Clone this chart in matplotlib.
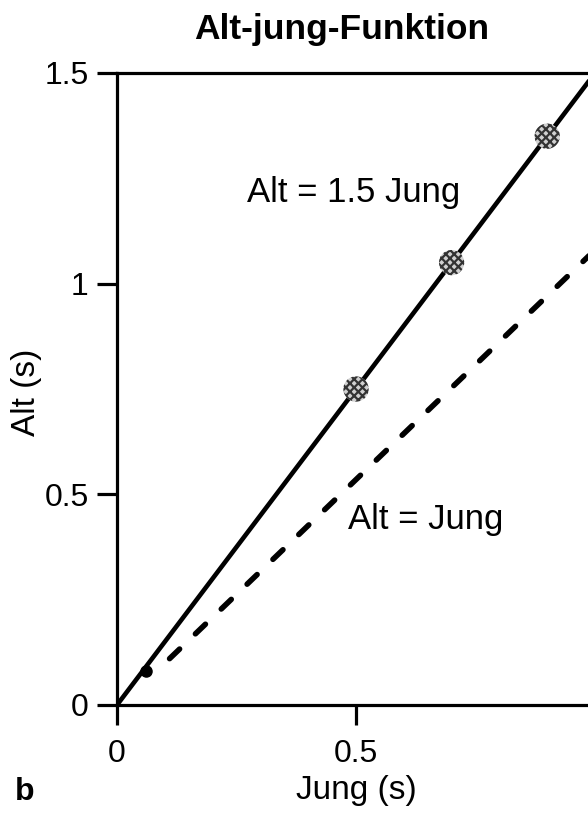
import matplotlib
matplotlib.use("Agg")
import matplotlib.pyplot as plt

plt.rcParams['font.family'] = ['Liberation Sans', 'DejaVu Sans']
plt.rcParams['hatch.linewidth'] = 1.6

# Data
jung_solid = [0.0, 1.0]
alt_solid = [0.0, 1.5]
jung_dash = [0.11, 1.0]
alt_dash = [0.11, 1.08]
jung_pts = [0.5, 0.7, 0.9]
alt_pts = [0.75, 1.05, 1.35]
jung_dot = [0.06]
alt_dot = [0.08]
x_ticks = [0, 0.5, 1]
x_ticklabels = ["0", "0.5", "1"]
y_ticks = [0, 0.5, 1, 1.5]
y_ticklabels = ["0", "0.5", "1", "1.5"]

W, H = 588, 818
fig = plt.figure(figsize=(W / 100, H / 100), dpi=100)
left = 117 / W
bottom = 1 - 705 / H
top = 1 - 73 / H
right = 595 / W
ax = fig.add_axes([left, bottom, right - left, top - bottom])

ax.plot(jung_solid, alt_solid, color='black', lw=3.3, solid_capstyle='round', zorder=3)
ax.plot(jung_dash, alt_dash, color='black', lw=4.0, linestyle=(0, (2.5, 3.95)),
        dash_capstyle='round', zorder=3)
ax.scatter(jung_pts, alt_pts, s=330, facecolor='#d0d0d0', edgecolor='#333333',
           hatch='xxxx', linewidths=0, zorder=4)
ax.plot(jung_dot, alt_dot, 'o', color='black', ms=8, zorder=4)

ax.set_xlim(0, 1)
ax.set_ylim(0, 1.5)
ax.set_xticks(x_ticks)
ax.set_xticklabels(x_ticklabels)
ax.set_yticks(y_ticks)
ax.set_yticklabels(y_ticklabels)

for s in ['left', 'bottom', 'top', 'right']:
    ax.spines[s].set_linewidth(2.3)
ax.tick_params(axis='both', which='major', direction='out', length=14.4, width=2.3,
               labelsize=23, color='black')
ax.tick_params(axis='x', pad=10)
ax.tick_params(axis='y', pad=6)

ax.text(0.272, 1.216, "Alt = 1.5 Jung", fontsize=25, va='center', ha='left')
ax.text(0.483, 0.44, "Alt = Jung", fontsize=25, va='center', ha='left')

fig.text(342 / W, 1 - 30 / H, "Alt-jung-Funktion", fontsize=25.5, fontweight='bold',
         ha='center', va='center')
fig.text(27 / W, 1 - 392 / H, "Alt (s)", fontsize=24, rotation=90, ha='center', va='center')
fig.text(356 / W, 1 - 790 / H, "Jung (s)", fontsize=24, ha='center', va='center')
fig.text(25 / W, 1 - 792 / H, "b", fontsize=23, fontweight='bold', ha='center', va='center')

fig.savefig("out.png", dpi=100)
